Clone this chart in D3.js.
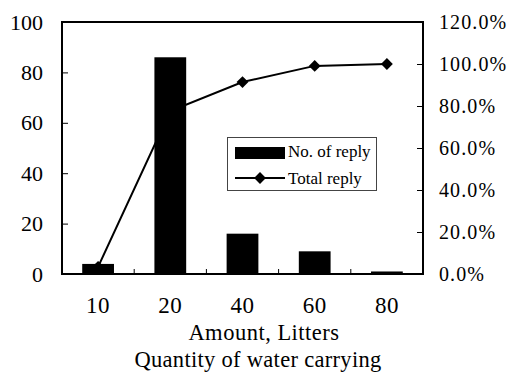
<!DOCTYPE html>
<html>
<head>
<meta charset="utf-8">
<script src="https://cdn.jsdelivr.net/npm/d3@7"></script>
<style>
  html, body { margin: 0; padding: 0; background: #fff; }
  svg { display: block; }
  svg text { font-family: "Liberation Serif", "Times New Roman", "DejaVu Serif", serif !important; fill: #000; }
</style>
</head>
<body>
<svg id="chart" width="512" height="378"></svg>
<script>
// Replies by amount of water carried (litres)
const categories = ["10", "20", "40", "60", "80"];
const replies = [4, 86, 16, 9, 1];                  // No. of reply
const cumulativePct = [3.4, 77.6, 91.4, 99.1, 100];  // Total reply, %
const leftTicks = [0, 20, 40, 60, 80, 100];
const rightTicks = [0, 20, 40, 60, 80, 100, 120];

const svg = d3.select("#chart");
const plot = { left: 62, right: 423, top: 22, bottom: 274 };

const x = d3.scaleBand()
  .domain(categories)
  .range([plot.left, plot.right])
  .paddingInner(0.56)
  .paddingOuter(0.28);
const yL = d3.scaleLinear().domain([0, 100]).range([plot.bottom, plot.top]);
const yR = d3.scaleLinear().domain([0, 120]).range([plot.bottom, plot.top]);
const cx = c => x(c) + x.bandwidth() / 2;

// Cumulative line (drawn beneath the bars)
const line = d3.line()
  .x((d, i) => cx(categories[i]))
  .y(d => yR(d));
svg.append("path")
  .datum(cumulativePct)
  .attr("d", line)
  .attr("fill", "none")
  .attr("stroke", "#000")
  .attr("stroke-width", 2);

const diamond = d3.symbol().type(d3.symbolSquare).size(70);
svg.selectAll(".marker")
  .data(cumulativePct)
  .join("path")
  .attr("class", "marker")
  .attr("d", diamond)
  .attr("transform", (d, i) => `translate(${cx(categories[i])},${yR(d)}) rotate(45)`)
  .attr("fill", "#000");

// Bars
svg.selectAll(".bar")
  .data(replies)
  .join("rect")
  .attr("class", "bar")
  .attr("x", (d, i) => x(categories[i]))
  .attr("width", x.bandwidth())
  .attr("y", d => yL(d))
  .attr("height", d => yL(0) - yL(d))
  .attr("fill", "#000");

// Frame
svg.append("rect")
  .attr("x", plot.left).attr("y", plot.top)
  .attr("width", plot.right - plot.left)
  .attr("height", plot.bottom - plot.top)
  .attr("fill", "none")
  .attr("stroke", "#000")
  .attr("stroke-width", 2);

// Left axis
const gL = svg.append("g")
  .attr("transform", `translate(${plot.left},0)`)
  .call(d3.axisLeft(yL).tickValues(leftTicks).tickSize(-6).tickPadding(19));
gL.select(".domain").remove();
gL.selectAll("line").attr("stroke-width", 1);
gL.selectAll("text").attr("font-size", 22);

// Right axis
const gR = svg.append("g")
  .attr("transform", `translate(${plot.right},0)`)
  .call(d3.axisRight(yR).tickValues(rightTicks).tickSize(-6).tickPadding(16)
    .tickFormat(d => d3.format(".1%")(d / 100)));
gR.select(".domain").remove();
gR.selectAll("line").attr("stroke-width", 1);
gR.selectAll("text").attr("font-size", 20).attr("letter-spacing", 1.1);

// Bottom axis: category labels, boundary ticks pointing inward
const gB = svg.append("g")
  .attr("transform", `translate(0,${plot.bottom})`)
  .call(d3.axisBottom(x).tickSize(0).tickPadding(23));
gB.select(".domain").remove();
gB.selectAll("text").attr("font-size", 23).attr("letter-spacing", 0.5);

const bounds = categories.slice(1).map(c => x(c) - x.step() * x.paddingInner() / 2);
svg.selectAll(".btick")
  .data(bounds)
  .join("line")
  .attr("class", "btick")
  .attr("x1", d => d).attr("x2", d => d)
  .attr("y1", plot.bottom).attr("y2", plot.bottom - 5)
  .attr("stroke", "#000");

// Axis titles
svg.append("text")
  .attr("x", 264).attr("y", 339.5)
  .attr("text-anchor", "middle")
  .attr("font-size", 22.5)
  .attr("letter-spacing", 0.5)
  .text("Amount, Litters");
svg.append("text")
  .attr("x", 258).attr("y", 367)
  .attr("text-anchor", "middle")
  .attr("font-size", 22.5)
  .attr("letter-spacing", 0.3)
  .text("Quantity of water carrying");

// Legend
const lg = svg.append("g");
lg.append("rect")
  .attr("x", 227.5).attr("y", 137.5)
  .attr("width", 149).attr("height", 53)
  .attr("fill", "#fff")
  .attr("stroke", "#444")
  .attr("stroke-width", 1);
lg.append("rect")
  .attr("x", 235).attr("y", 147).attr("width", 50).attr("height", 12)
  .attr("fill", "#000");
lg.append("text")
  .attr("x", 288).attr("y", 157)
  .attr("font-size", 17)
  .text("No. of reply");
lg.append("line")
  .attr("x1", 235).attr("x2", 285).attr("y1", 178).attr("y2", 178)
  .attr("stroke", "#000").attr("stroke-width", 2);
lg.append("path")
  .attr("d", diamond)
  .attr("transform", "translate(260,178) rotate(45)")
  .attr("fill", "#000");
lg.append("text")
  .attr("x", 288).attr("y", 184)
  .attr("font-size", 17)
  .text("Total reply");
</script>
</body>
</html>
